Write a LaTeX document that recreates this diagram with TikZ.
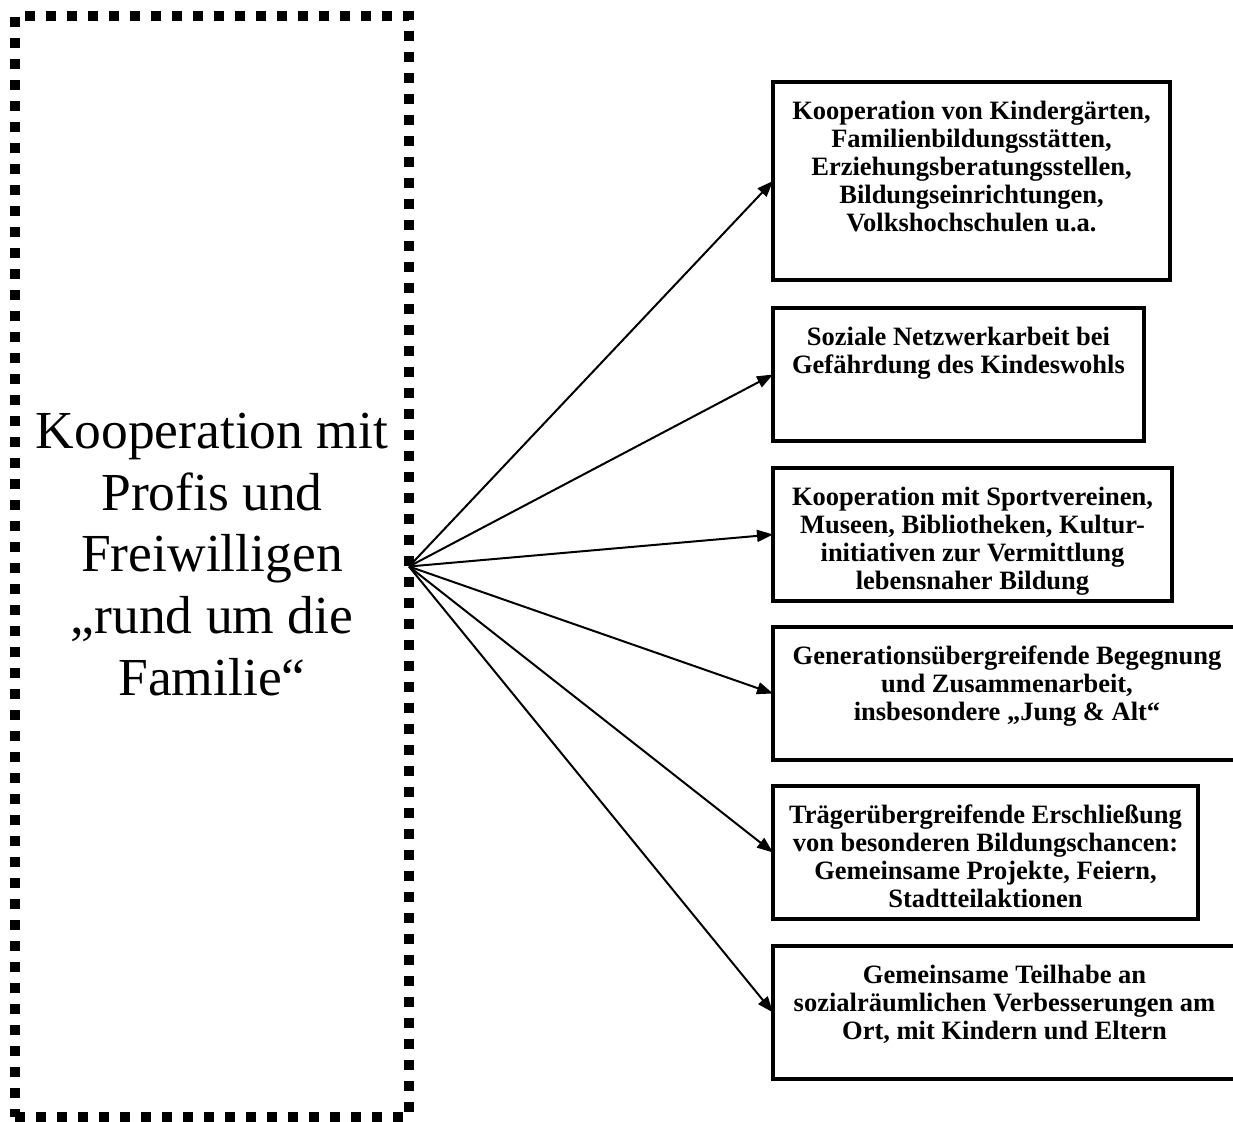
\documentclass[tikz,border=0pt]{standalone}
\usepackage{fontspec}
\setmainfont{Liberation Serif}
\usepackage{tikz}
\usetikzlibrary{positioning, arrows.meta}

\begin{document}
\begin{tikzpicture}[x=1pt, y=-1pt]
        \tikzstyle{rahmen} = [rectangle, draw=black, line width=10pt, dash pattern=on 10pt off 11pt, inner sep=0pt, outer sep=0pt, minimum width=394pt, minimum height=1101pt]
        \tikzstyle{gross} = [align=center, inner sep=0pt, font=\fontsize{53.5}{61.7}\selectfont]
        \tikzstyle{kasten} = [rectangle, draw=black, line width=4pt, anchor=north west, inner sep=0pt, outer sep=0pt, minimum height=133pt]
        \tikzstyle{inhalt} = [align=center, inner sep=0pt, font=\fontsize{26.5}{28}\selectfont\bfseries]
        \tikzstyle{pfeil} = [line width=2pt, -{Triangle[length=16pt, width=12pt]}]

        \useasboundingbox (0,0) rectangle (1233,1121);

        % linke Seite
        \node (rahmen) [rahmen] at (212,566.5) {};
        \node (thema) [gross, yshift=12pt] at (rahmen) {Kooperation mit\\Profis und\\Freiwilligen\\„rund um die\\Familie“};

        % rechte Seite
        \node (b1) [kasten, minimum width=397pt, minimum height=198pt] at (773,82) {};
        \node (b2) [kasten, minimum width=371pt] at (773,308) {};
        \node (b3) [kasten, minimum width=399pt] at (773,468) {};
        \node (b4) [kasten, minimum width=468pt] at (773,627) {};
        \node (b5) [kasten, minimum width=425pt] at (773,786) {};
        \node (b6) [kasten, minimum width=463pt] at (773,946) {};

        \node (t1) [inhalt, below=19pt of b1.north] {Kooperation von Kindergärten,\\Familienbildungsstätten,\\Erziehungsberatungsstellen,\\Bildungseinrichtungen,\\Volkshochschulen u.a.};
        \node (t2) [inhalt, below=19pt of b2.north] {Soziale Netzwerkarbeit bei\\Gefährdung des Kindeswohls};
        \node (t3) [inhalt, below=19pt of b3.north] {Kooperation mit Sportvereinen,\\Museen, Bibliotheken, Kultur-\\initiativen zur Vermittlung\\lebensnaher Bildung};
        \node (t4) [inhalt, below=19pt of b4.north] {Generationsübergreifende Begegnung\\und Zusammenarbeit,\\insbesondere „Jung \& Alt“};
        \node (t5) [inhalt, below=19pt of b5.north] {Trägerübergreifende Erschließung\\von besonderen Bildungschancen:\\Gemeinsame Projekte, Feiern,\\Stadtteilaktionen};
        \node (t6) [inhalt, below=19pt of b6.north] {Gemeinsame Teilhabe an\\sozialräumlichen Verbesserungen am\\Ort, mit Kindern und Eltern};

        \draw [pfeil] (rahmen.east) -- (b1.west);
        \draw [pfeil] (rahmen.east) -- (b2.west);
        \draw [pfeil] (rahmen.east) -- (b3.west);
        \draw [pfeil] (rahmen.east) -- (b4.west);
        \draw [pfeil] (rahmen.east) -- (b5.west);
        \draw [pfeil] (rahmen.east) -- (b6.west);
    \end{tikzpicture}
\end{document}
